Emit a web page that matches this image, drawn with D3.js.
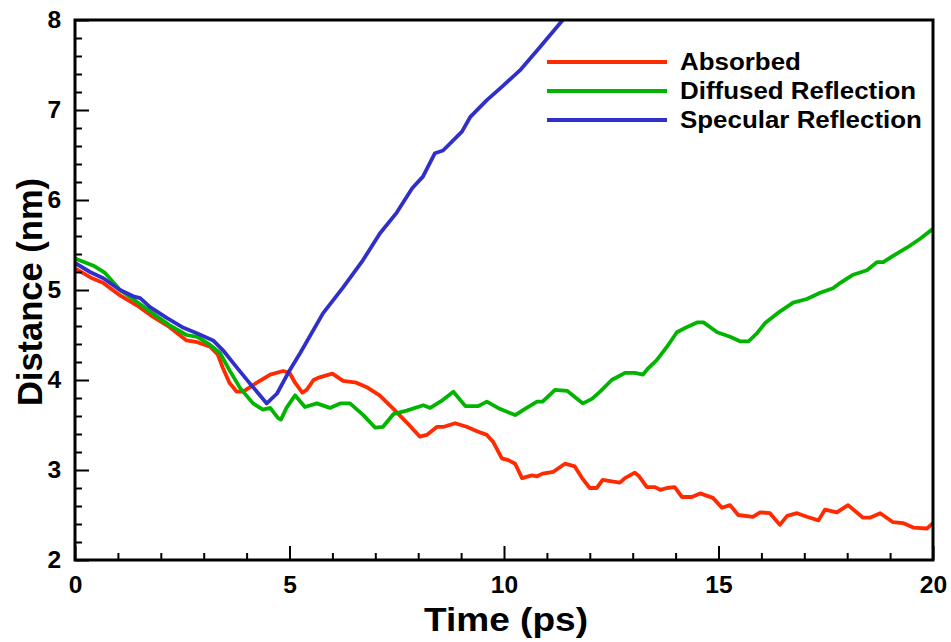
<!DOCTYPE html>
<html>
<head>
<meta charset="utf-8">
<script src="https://cdn.jsdelivr.net/npm/d3@7"></script>
<style>
  body { margin: 0; background: #fff; }
  text { font-family: "Liberation Sans", Arial, Helvetica, sans-serif; font-weight: bold; fill: #000; }
</style>
</head>
<body>
<div id="wrapper"></div>
<script>
// series: [time (ps), distance (nm)]
const absorbed = [
  [0,5.24],[0.4,5.13],[0.65,5.08],[1.05,4.94],[1.44,4.83],[1.82,4.70],[2.2,4.59],[2.6,4.44],[2.85,4.42],
  [3.15,4.37],[3.33,4.28],[3.45,4.13],[3.6,3.97],[3.77,3.87],[3.92,3.87],[4.24,3.97],[4.55,4.06],[4.85,4.10],
  [5.0,4.08],[5.13,3.97],[5.3,3.86],[5.4,3.89],[5.56,4.0],[5.7,4.03],[6.0,4.07],[6.25,3.99],[6.56,3.97],
  [6.8,3.92],[7.1,3.83],[7.4,3.69],[7.73,3.53],[8.04,3.37],[8.2,3.39],[8.44,3.48],[8.6,3.48],[8.86,3.52],
  [9.13,3.48],[9.37,3.43],[9.6,3.39],[9.75,3.31],[9.95,3.13],[10.1,3.11],[10.26,3.07],[10.42,2.91],
  [10.65,2.94],[10.77,2.93],[10.9,2.96],[11.15,2.98],[11.42,3.07],[11.65,3.04],[11.82,2.91],[12.0,2.80],
  [12.16,2.80],[12.3,2.89],[12.55,2.87],[12.7,2.86],[12.82,2.91],[13.05,2.97],[13.15,2.93],[13.33,2.81],
  [13.52,2.81],[13.64,2.78],[13.8,2.80],[13.98,2.81],[14.15,2.70],[14.38,2.70],[14.57,2.74],[14.87,2.69],
  [15.08,2.58],[15.27,2.61],[15.46,2.50],[15.8,2.48],[15.97,2.53],[16.2,2.52],[16.43,2.39],[16.6,2.49],
  [16.83,2.52],[17.06,2.48],[17.33,2.44],[17.48,2.56],[17.76,2.53],[18.02,2.61],[18.37,2.47],[18.53,2.47],
  [18.77,2.52],[19.07,2.42],[19.3,2.41],[19.54,2.36],[19.86,2.35],[20,2.41]
]

const diffused = [
  [0,5.35],[0.43,5.27],[0.7,5.19],[1.05,5.0],[1.44,4.87],[1.9,4.71],[2.2,4.61],[2.6,4.5],[2.85,4.48],
  [3.15,4.39],[3.38,4.30],[3.6,4.11],[3.85,3.91],[4.15,3.74],[4.38,3.67],[4.55,3.69],[4.73,3.58],[4.8,3.56],
  [4.93,3.69],[5.13,3.83],[5.36,3.70],[5.64,3.74],[5.94,3.69],[6.18,3.74],[6.41,3.74],[6.72,3.61],[7.0,3.47],
  [7.18,3.48],[7.42,3.62],[7.73,3.66],[8.12,3.72],[8.28,3.69],[8.58,3.78],[8.82,3.87],[9.1,3.71],[9.4,3.71],
  [9.6,3.76],[9.9,3.68],[10.26,3.61],[10.49,3.68],[10.77,3.76],[10.9,3.76],[11.19,3.89],[11.47,3.88],
  [11.6,3.83],[11.84,3.74],[12.05,3.79],[12.24,3.87],[12.51,4.0],[12.82,4.08],[13.05,4.08],[13.24,4.06],
  [13.36,4.13],[13.56,4.22],[13.8,4.37],[14.03,4.53],[14.27,4.59],[14.5,4.64],[14.65,4.64],[14.97,4.53],
  [15.27,4.48],[15.5,4.43],[15.7,4.43],[15.9,4.52],[16.08,4.63],[16.43,4.76],[16.74,4.86],[17.06,4.90],
  [17.37,4.97],[17.67,5.02],[17.84,5.08],[18.14,5.17],[18.46,5.22],[18.7,5.31],[18.84,5.31],[19.07,5.38],
  [19.39,5.47],[19.7,5.57],[20,5.68]
]

const specular = [
  [0,5.30],[0.35,5.2],[0.66,5.13],[1.05,5.0],[1.36,4.93],[1.52,4.91],[1.75,4.81],[2.14,4.69],[2.53,4.58],
  [2.84,4.52],[3.22,4.44],[3.45,4.33],[3.77,4.14],[4.08,3.96],[4.47,3.74],[4.71,3.85],[4.97,4.08],[5.25,4.3],
  [5.78,4.74],[6.25,5.03],[6.71,5.33],[7.11,5.63],[7.5,5.86],[7.86,6.13],[8.11,6.26],[8.39,6.52],[8.58,6.55],
  [9.02,6.76],[9.21,6.92],[9.6,7.11],[9.91,7.24],[10.37,7.44],[10.84,7.7],[11.37,8.0]
]

const seriesNames = ["Absorbed", "Diffused Reflection", "Specular Reflection"]
const seriesColors = ["#ff2a00", "#00b400", "#3030c8"]

const xTicks = [0, 5, 10, 15, 20]
const xMinorTicks = d3.range(0, 21, 1).filter(d => d % 5 !== 0)
const yTicks = [2, 3, 4, 5, 6, 7, 8]
const yMinorTicks = d3.range(20, 81, 2).map(d => d / 10).filter(d => Math.abs(d - Math.round(d)) > 1e-6)

// dimensions
const dimensions = {
  width: 951,
  height: 642,
  margin: { top: 20, right: 18, bottom: 82, left: 75 }
}
dimensions.boundedWidth = dimensions.width - dimensions.margin.left - dimensions.margin.right
dimensions.boundedHeight = dimensions.height - dimensions.margin.top - dimensions.margin.bottom

const stretch = "scale(1.07,1)" // the picture's lettering is a touch wide

const svg = d3.select("#wrapper")
  .append("svg")
  .attr("width", dimensions.width)
  .attr("height", dimensions.height)

const bounds = svg.append("g")
  .attr("transform", `translate(${dimensions.margin.left},${dimensions.margin.top})`)

// scales
const xScale = d3.scaleLinear()
  .domain([0, 20])
  .range([0, dimensions.boundedWidth])

const yScale = d3.scaleLinear()
  .domain([2, 8])
  .range([dimensions.boundedHeight, 0])

// lines
svg.append("defs").append("clipPath").attr("id", "plotClip")
  .append("rect")
  .attr("width", dimensions.boundedWidth)
  .attr("height", dimensions.boundedHeight)

const lineGen = d3.line()
  .x(d => xScale(d[0]))
  .y(d => yScale(d[1]))

const lines = bounds.append("g").attr("clip-path", "url(#plotClip)")
;[absorbed, diffused, specular].forEach((data, i) => {
  lines.append("path")
    .datum(data)
    .attr("d", lineGen)
    .attr("fill", "none")
    .attr("stroke", seriesColors[i])
    .attr("stroke-width", 3.8)
    .attr("stroke-linejoin", "round")
    .attr("stroke-linecap", "round")
})

// axes (ticks point inward)
const xAxis = bounds.append("g")
  .attr("transform", `translate(0,${dimensions.boundedHeight})`)
  .call(d3.axisBottom(xScale).tickValues(xTicks).tickSize(-14).tickPadding(17).tickFormat(d3.format("d")))
const xMinor = bounds.append("g")
  .attr("transform", `translate(0,${dimensions.boundedHeight})`)
  .call(d3.axisBottom(xScale).tickValues(xMinorTicks).tickSize(-7).tickFormat(""))

const yAxis = bounds.append("g")
  .call(d3.axisLeft(yScale).tickValues(yTicks).tickSize(-14).tickPadding(13).tickFormat(d3.format("d")))
const yMinor = bounds.append("g")
  .call(d3.axisLeft(yScale).tickValues(yMinorTicks).tickSize(-7).tickFormat(""))

;[xAxis, xMinor, yAxis, yMinor].forEach(ax => {
  ax.select(".domain").remove()
  ax.selectAll(".tick line").attr("stroke", "#000").attr("stroke-width", 2)
  ax.selectAll(".tick text")
    .attr("font-size", 23)
    .attr("fill", "#000")
    .attr("transform", stretch)
})

// frame
bounds.append("rect")
  .attr("width", dimensions.boundedWidth)
  .attr("height", dimensions.boundedHeight)
  .attr("fill", "none")
  .attr("stroke", "#000")
  .attr("stroke-width", 3)

// axis titles
svg.append("text")
  .attr("transform", `translate(${dimensions.margin.left + dimensions.boundedWidth / 2 + 2},631) scale(1.09,1)`)
  .attr("text-anchor", "middle")
  .attr("font-size", 34)
  .text("Time (ps)")

svg.append("text")
  .attr("transform", `translate(42,${dimensions.margin.top + dimensions.boundedHeight / 2 + 2}) rotate(-90)`)
  .attr("text-anchor", "middle")
  .attr("font-size", 34.5)
  .text("Distance (nm)")

// legend
const legend = bounds.append("g")
  .attr("transform", `translate(${547 - dimensions.margin.left},${62 - dimensions.margin.top})`)

seriesNames.forEach((name, i) => {
  const row = legend.append("g").attr("transform", `translate(0,${i * 29})`)
  row.append("line")
    .attr("x1", 0).attr("x2", 120)
    .attr("stroke", seriesColors[i])
    .attr("stroke-width", 3.8)
  row.append("text")
    .attr("transform", `translate(133,0) scale(1.08,1)`)
    .attr("dy", "0.35em")
    .attr("font-size", 24)
    .text(name)
})
</script>
</body>
</html>
